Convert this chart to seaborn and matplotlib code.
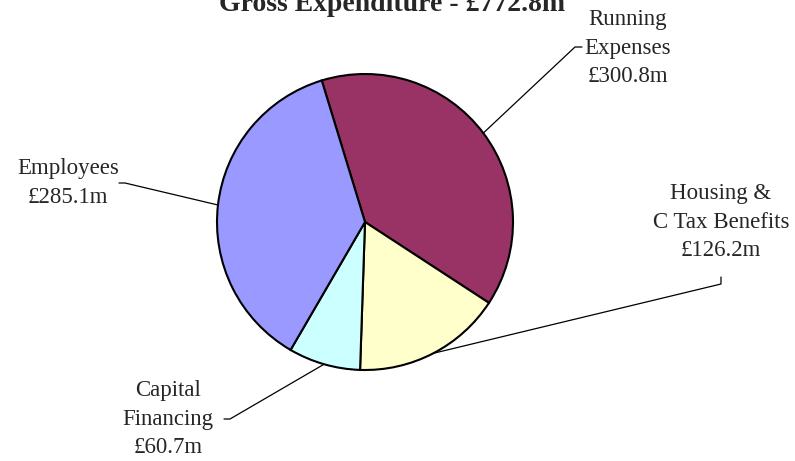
import numpy as np
import matplotlib
matplotlib.use("Agg")
import matplotlib.pyplot as plt
import seaborn as sns

# data
categories = ["Running\nExpenses", "Housing &\nC Tax Benefits", "Capital\nFinancing", "Employees"]
values = [300.8, 126.2, 60.7, 285.1]
colors = ["#993366", "#FFFFCC", "#CCFFFF", "#9999FF"]
title = "Gross Expenditure - £772.8m"

sns.set_style("white")
plt.rcParams['font.family'] = ['Liberation Serif', 'DejaVu Serif']

W, H = 795, 461
fig = plt.figure(figsize=(W / 100, H / 100), dpi=100)
ax = fig.add_axes([0, 0, 1, 1])

cx, cy, r = 365, 222, 148
# y axis is inverted, so clockwise on screen = counterclock in data
wedges, _ = ax.pie(values, colors=colors, startangle=-107, counterclock=True,
                   center=(cx, cy), radius=r, frame=True,
                   wedgeprops=dict(edgecolor='black', linewidth=1.5))
ax.set_xlim(0, W)
ax.set_ylim(H, 0)
ax.set_aspect('equal')
ax.axis('off')

# label text centre, leader elbow, leader tip
labels_pos = [
    ((628, 48), (575, 47), (582, 47)),
    ((721, 222), (721, 284), (721, 277)),
    ((168, 419), (230, 419), (224, 419)),
    ((68, 183), (125, 183), (119, 183)),
]

for w, lab, v, (tpos, elbow, tip) in zip(wedges, categories, values, labels_pos):
    ang = np.deg2rad((w.theta1 + w.theta2) / 2)
    ex, ey = cx + r * np.cos(ang), cy + r * np.sin(ang)
    ax.plot([ex, elbow[0], tip[0]], [ey, elbow[1], tip[1]], color='black', lw=0.9)
    ax.text(tpos[0], tpos[1], f"{lab}\n£{v:.1f}m", ha='center', va='center',
            fontsize=16.5, linespacing=1.45)

fig.text(392 / W, 1 - 11 / H, title, ha='center', va='baseline',
         fontsize=20, fontweight='bold')

fig.savefig("out.png", dpi=100, facecolor='white')
